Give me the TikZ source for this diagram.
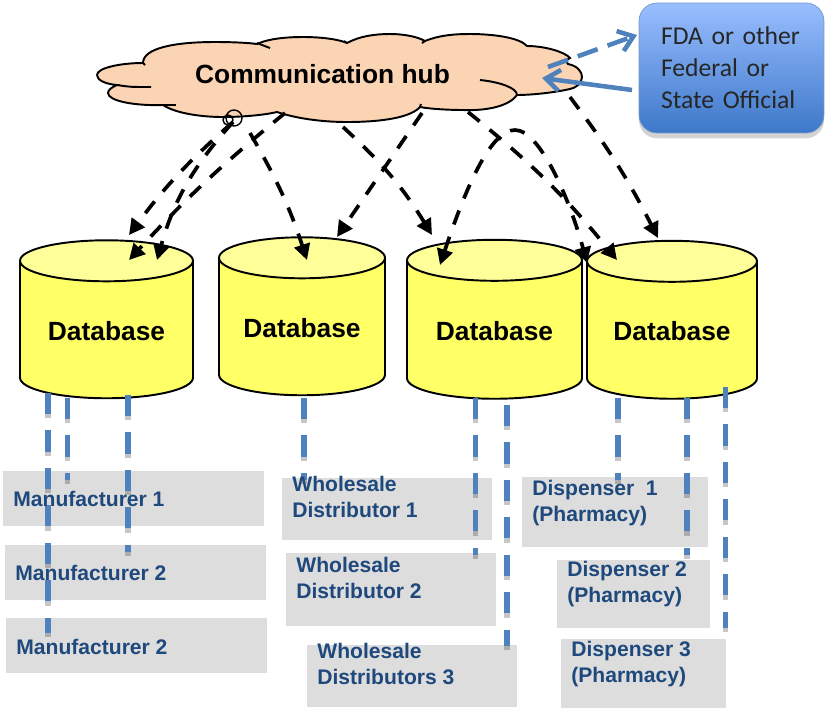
\documentclass[tikz,border=0pt]{standalone}
\usepackage{fontspec}
\setmainfont{Liberation Sans}
\newfontfamily\fdafont{Carlito}
\usetikzlibrary{positioning, arrows.meta, shapes, shadows}
\definecolor{hubfill}{HTML}{FBD4B4}
\definecolor{dbtop}{HTML}{FFFF99}
\definecolor{dbbody}{HTML}{FFFF66}
\definecolor{linkblue}{HTML}{4F81BD}
\definecolor{orgtext}{HTML}{1F497D}
\definecolor{orgfill}{HTML}{DDDDDD}
\definecolor{fdatop}{HTML}{99BEFF}
\definecolor{fdabottom}{HTML}{3D78C9}

\begin{document}
\begin{tikzpicture}[
        x=0.02cm,
        y=-0.02cm,
        database/.style={cylinder, shape border rotate=90, shape aspect=0.35, draw=black, line width=1.1pt, inner sep=0pt, outer sep=0pt, text height=12pt, cylinder uses custom fill, cylinder end fill=dbtop, cylinder body fill=dbbody, font=\fontsize{15}{18}\selectfont\bfseries},
        orgbox/.style={rectangle, fill=orgfill, inner sep=0pt, outer sep=0pt},
        orgtitle/.style={anchor=west, align=left, inner sep=0pt, text=orgtext, font=\fontsize{12}{14.8}\selectfont\bfseries},
        hublink/.style={draw=black, line width=2.1pt, dash pattern=on 8.5pt off 7.4pt, -{Triangle[length=9pt,width=9pt]}},
        orglink/.style={draw=linkblue, line width=2.9pt, dash pattern=on 12pt off 9.3pt, preaction={draw=black, draw opacity=0.22, line width=2.9pt, dash pattern=on 12pt off 9.3pt, transform canvas={yshift=-2.5pt}}},
        fdalink/.style={draw=linkblue, line width=2.6pt, -{Straight Barb[length=8pt,width=12pt]}},
        loopmark/.style={circle, draw=black, line width=0.8pt, inner sep=0pt}
    ]
    \useasboundingbox (0,0) rectangle (825,708);

    % Cloud outline
    \draw[fill=hubfill, line width=1.1pt] (143,63)
        .. controls (143,48) and (175,42) .. (215,42)
        .. controls (235,42) and (250,43) .. (257,44)
        .. controls (270,38) and (290,37) .. (303,37)
        .. controls (320,37) and (338,39) .. (347,43)
        .. controls (360,36) and (375,34) .. (390,34)
        .. controls (405,34) and (418,37) .. (425,41)
        .. controls (440,35) and (455,34) .. (470,34)
        .. controls (495,34) and (520,38) .. (527,46)
        .. controls (545,46) and (565,52) .. (570,58)
        .. controls (566,60) and (566,62) .. (568,64)
        .. controls (578,66) and (582,72) .. (582,77)
        .. controls (582,84) and (575,88) .. (570,89)
        .. controls (552,93) and (530,95) .. (517,95)
        .. controls (510,105) and (490,111) .. (463,110)
        .. controls (450,110) and (430,109) .. (420,107)
        .. controls (410,118) and (380,122) .. (347,122)
        .. controls (320,122) and (295,118) .. (277,112)
        .. controls (260,116) and (235,117) .. (223,117)
        .. controls (200,117) and (175,113) .. (163,105)
        .. controls (135,106) and (108,101) .. (108,93)
        .. controls (108,90) and (112,87) .. (117,85)
        .. controls (105,84) and (97,80) .. (97,75)
        .. controls (97,68) and (120,63) .. (143,63) -- cycle;

    % Inner arcs of the cloud
    \draw[line width=1.1pt] (257,43) .. controls (262,45) .. (270,48);
    \draw[line width=1.1pt] (480,80) .. controls (500,82) and (517,88) .. (517,95);
    \draw[line width=1.1pt] (163,105) -- (176,105);
    \draw[line width=1.1pt] (117,85) .. controls (130,87) .. (151,87);
    \draw[line width=1.1pt] (143,63) -- (145,65);
    \draw[line width=1.1pt] (347,43) -- (344,41);
    \draw[line width=1.1pt] (425,41) -- (422,43);
    \draw[line width=1.1pt] (420,107) -- (421,104);

    % Hub label
    \node[font=\fontsize{15}{18}\selectfont\bfseries, inner sep=0pt] (hub) at (322.5,74) {Communication hub};

    % Official box
    \node[rectangle, rounded corners=0.36cm, draw=linkblue!80, top color=fdatop, bottom color=fdabottom, drop shadow={shadow xshift=0pt, shadow yshift=-3pt, opacity=0.35}, minimum width=3.7cm, minimum height=2.6cm, inner sep=0pt, text width=2.82cm, align=left, font=\fdafont\fontsize{14.6}{18.2}\selectfont, text=black!85] (official) at (731.5,68) {FDA or other\\Federal or\\State Official};

    % Databases
    \node[database, minimum width=3.46cm, minimum height=3.16cm] (dbManufacturer) at (106.5,330) {Database};
    \node[database, minimum width=3.32cm, minimum height=3.16cm] (dbWholesale) at (302,327) {Database};
    \node[database, minimum width=3.5cm, minimum height=3.18cm] (dbDistributor) at (494.5,330) {Database};
    \node[database, minimum width=3.4cm, minimum height=3.16cm] (dbDispenser) at (672,330.5) {Database};

    % Manufacturer boxes
    \node[orgbox, minimum width=5.22cm, minimum height=1.1cm] (manufacturerA) at (133.5,498.5) {};
    \node[orgbox, minimum width=5.22cm, minimum height=1.1cm] (manufacturerB) at (135.5,572.5) {};
    \node[orgbox, minimum width=5.22cm, minimum height=1.1cm] (manufacturerC) at (136.5,645.5) {};

    % Wholesale boxes
    \node[orgbox, minimum width=4.2cm, minimum height=1.24cm] (wholesaleA) at (387,509) {};
    \node[orgbox, minimum width=4.2cm, minimum height=1.46cm] (wholesaleB) at (391,589.5) {};
    \node[orgbox, minimum width=4.2cm, minimum height=1.24cm] (wholesaleC) at (412,676) {};

    % Dispenser boxes
    \node[orgbox, minimum width=3.72cm, minimum height=1.4cm] (dispenserA) at (615,512) {};
    \node[orgbox, minimum width=3.06cm, minimum height=1.36cm] (dispenserB) at (633.5,594) {};
    \node[orgbox, minimum width=3.3cm, minimum height=1.38cm] (dispenserC) at (643.5,673.5) {};

    % End points of the links
    \coordinate (hubA) at (233,122);
    \coordinate (hubB) at (285,113);
    \coordinate (hubC) at (250,133);
    \coordinate (hubD) at (343,127);
    \coordinate (hubE) at (422,113);
    \coordinate (hubF) at (468,112);
    \coordinate (hubG) at (570,97);
    \coordinate (hubH) at (548,67);
    \coordinate (hubI) at (542,78);
    \coordinate (humpTop) at (515,130);
    \coordinate (tipManA) at (129,235);
    \coordinate (tipManB) at (157,260);
    \coordinate (tipManC) at (129,260);
    \coordinate (tipWhoA) at (307,260);
    \coordinate (tipWhoB) at (337,237);
    \coordinate (tipDisA) at (432,235);
    \coordinate (tipDisB) at (440,265);
    \coordinate (tipPhaA) at (587,263);
    \coordinate (tipPhaB) at (617,260);
    \coordinate (tipPhaC) at (658,238);
    \coordinate (fdaA) at (637,35);
    \coordinate (fdaB) at (632,90);

    % Hub links
    \draw[hublink] (hubA) to[bend right=6] (tipManA);
    \draw[hublink] (hubA) to[bend right=13] (tipManB);
    \draw[hublink] (hubB) to[bend right=4] (tipManC);
    \draw[hublink] (hubC) to[bend left=6] (tipWhoA);
    \draw[hublink] (hubE) -- (tipWhoB);
    \draw[hublink] (hubD) to[bend left=8] (tipDisA);
    \draw[hublink] (hubF) to[bend left=6] (tipPhaB);
    \draw[hublink] (hubG) to[bend left=5] (tipPhaC);
    \draw[hublink, {Triangle[length=9pt,width=9pt]}-{Triangle[length=9pt,width=9pt]}] (tipDisB) .. controls (465,190) and (490,130) .. (humpTop) .. controls (540,130) and (570,200) .. (tipPhaA);

    % Small loops on the cloud edge
    \node[loopmark, minimum size=0.32cm] (loopA) at (234,118) {};
    \node[loopmark, minimum size=0.2cm] (loopB) at (228,120) {};

    % Links to the official box
    \draw[fdalink, dash pattern=on 12pt off 6pt] (hubH) -- (fdaA);
    \draw[fdalink] (fdaB) -- (hubI);

    % Manufacturer links
    \coordinate (manTopA) at (48,393);
    \coordinate (manEndA) at (48,633);
    \coordinate (manTopB) at (67.5,398);
    \coordinate (manEndB) at (67.5,480);
    \coordinate (manTopC) at (128,395);
    \coordinate (manEndC) at (128,552);
    \draw[orglink] (manTopA) -- (manEndA);
    \draw[orglink] (manTopB) -- (manEndB);
    \draw[orglink] (manTopC) -- (manEndC);

    % Wholesale links
    \coordinate (whoTopA) at (304,398);
    \coordinate (whoEndA) at (304,480);
    \coordinate (whoTopB) at (475.5,398);
    \coordinate (whoEndB) at (475.5,555);
    \coordinate (whoTopC) at (507,405);
    \coordinate (whoEndC) at (507,646);
    \draw[orglink] (whoTopA) -- (whoEndA);
    \draw[orglink] (whoTopB) -- (whoEndB);
    \draw[orglink] (whoTopC) -- (whoEndC);

    % Dispenser links
    \coordinate (disTopA) at (618,398);
    \coordinate (disEndA) at (618,480);
    \coordinate (disTopB) at (687,398);
    \coordinate (disEndB) at (687,555);
    \coordinate (disTopC) at (725.5,387);
    \coordinate (disEndC) at (725.5,628);
    \draw[orglink] (disTopA) -- (disEndA);
    \draw[orglink] (disTopB) -- (disEndB);
    \draw[orglink] (disTopC) -- (disEndC);

    % Box titles
    \node[orgtitle] (titleManA) at (13,499) {Manufacturer 1};
    \node[orgtitle] (titleManB) at (15,573) {Manufacturer 2};
    \node[orgtitle] (titleManC) at (16,647) {Manufacturer 2};
    \node[orgtitle] (titleWhoA) at (292,497) {Wholesale\\Distributor 1};
    \node[orgtitle] (titleWhoB) at (296,578) {Wholesale\\Distributor 2};
    \node[orgtitle] (titleWhoC) at (317,664) {Wholesale\\Distributors 3};
    \node[orgtitle] (titleDisA) at (532,503) {Dispenser~~1\\(Pharmacy)};
    \node[orgtitle] (titleDisB) at (567,584) {Dispenser 2\\(Pharmacy)};
    \node[orgtitle] (titleDisC) at (571,664) {Dispenser 3\\(Pharmacy)};

\end{tikzpicture}
\end{document}
